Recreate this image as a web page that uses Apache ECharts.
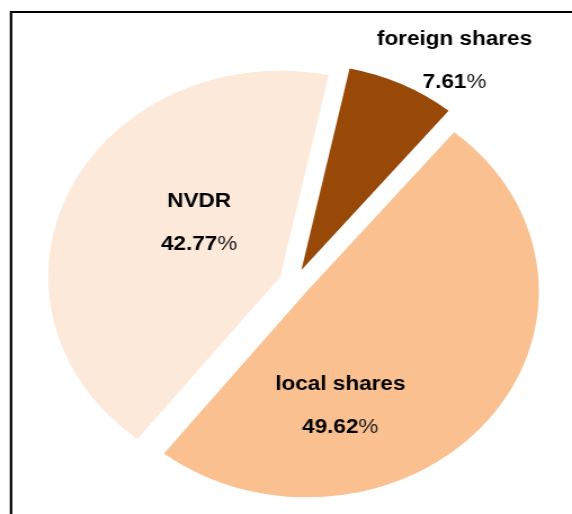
<!DOCTYPE html>
<html>
<head>
<meta charset="utf-8">
<script src="https://cdn.jsdelivr.net/npm/echarts@6/dist/echarts.min.js"></script>
<style>
	html, body { margin: 0; padding: 0; background: #fff; overflow: hidden; }
	/* the original pie is a bit wider than tall, so the whole chart is stretched sideways */
	#main { width: 508px; height: 514px; transform: scaleX(1.126); transform-origin: 0 0; }
</style>
</head>
<body>
<div id="main"></div>
<script>
var names = ['foreign shares', 'local shares', 'NVDR'];
var shares = [7.61, 49.62, 42.77];
var colors = ['#984807', '#FAC090', '#FDE9D9'];
// nudges for the labels, in px, to sit where the original has them
var labelShift = [[90, -113], [-53, 48], [24, -9]];

function drawChart() {
	var data = [];
	for (var i = 0; i < names.length; i++) {
		data.push({
			name : names[i],
			value : shares[i],
			selected : true,
			itemStyle : { color : colors[i] }
		});
	}

	var option = {
		animation : false,
		backgroundColor : '#fff',
		graphic : [ {
			type : 'rect',
			shape : { x : 9.8, y : 12, width : 700, height : 700 },
			style : { fill : null, stroke : '#000', lineWidth : 2.2 },
			silent : true
		} ],
		series : [ {
			name : 'shares',
			type : 'pie',
			center : [ 261.6, 282.6 ],
			radius : 206,
			startAngle : 78,
			clockwise : true,
			selectedMode : 'multiple',
			selectedOffset : 14,
			avoidLabelOverlap : false,
			label : {
				show : true,
				position : 'inside',
				formatter : '{n|{b}}\n{v|{c}}{p|%}',
				rich : {
					n : { fontFamily : 'Liberation Sans', fontWeight : 'bold', fontSize : 20, color : '#000', lineHeight : 43 },
					v : { fontFamily : 'Liberation Sans', fontWeight : 'bold', fontSize : 20, color : '#000', lineHeight : 43 },
					p : { fontFamily : 'Liberation Sans', fontWeight : 'normal', fontSize : 20, color : '#222', lineHeight : 43 }
				}
			},
			labelLine : { show : false },
			labelLayout : function(params) {
				var s = labelShift[params.dataIndex];
				return { dx : s[0], dy : s[1] };
			},
			select : { itemStyle : { borderWidth : 0 } },
			emphasis : { disabled : true },
			data : data
		} ]
	};

	var myChart = echarts.init(document.getElementById('main'));
	myChart.setOption(option);
}

drawChart();
</script>
</body>
</html>
